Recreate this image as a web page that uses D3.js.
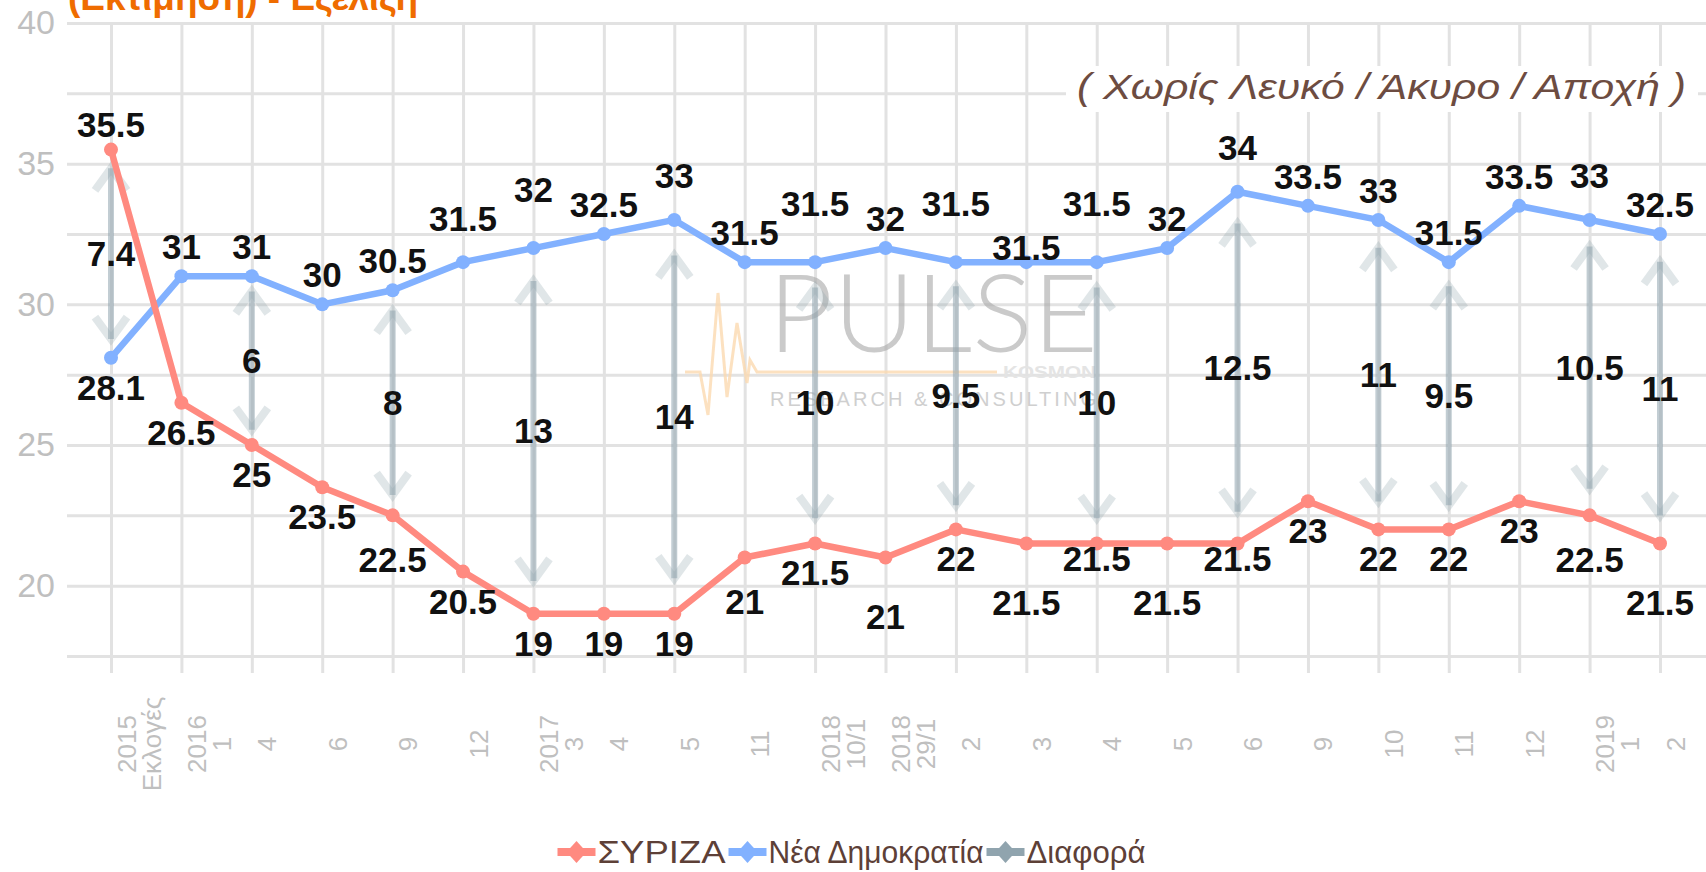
<!DOCTYPE html>
<html>
<head>
<meta charset="utf-8">
<script src="https://cdn.jsdelivr.net/npm/d3@7"></script>
<style>
body { margin: 0; background: #fff; }
svg { display: block; font-family: "Liberation Sans", Arial, sans-serif; }
</style>
</head>
<body>
<div id="chart"></div>
<script>
var width = 1706, height = 872;
var plotLeft = 67;      // where horizontal grid starts
var plotTop = 23;       // y of the 40 line
var plotBottom = 656;   // y of the 17.5 line
var tickBottom = 673;   // vertical grid runs a bit below the plot

// text
var titleText = "(Εκτίμηση) - Εξέλιξη";
var subtitleText = "( Χωρίς Λευκό / Άκυρο / Αποχή )";
var seriesNames = ["ΣΥΡΙΖΑ", "Νέα Δημοκρατία", "Διαφορά"];

// data
var xLabels = [["2015", "Εκλογές"], ["2016", "1"], ["4"], ["6"], ["9"], ["12"],
	["2017", "3"], ["4"], ["5"], ["11"], ["2018", "10/1"], ["2018", "29/1"],
	["2"], ["3"], ["4"], ["5"], ["6"], ["9"], ["10"], ["11"], ["12"], ["2019", "1"], ["2"]];
var syriza = [35.5, 26.5, 25, 23.5, 22.5, 20.5, 19, 19, 19, 21, 21.5, 21, 22, 21.5, 21.5, 21.5, 21.5, 23, 22, 22, 23, 22.5, 21.5];
var nd = [28.1, 31, 31, 30, 30.5, 31.5, 32, 32.5, 33, 31.5, 31.5, 32, 31.5, 31.5, 31.5, 32, 34, 33.5, 33, 31.5, 33.5, 33, 32.5];
var diffIdx = [0, 2, 4, 6, 8, 10, 12, 14, 16, 18, 19, 21, 22];
var diffVal = [7.4, 6, 8, 13, 14, 10, 9.5, 10, 12.5, 11, 9.5, 10.5, 11];
var yTicks = [17.5, 20, 22.5, 25, 27.5, 30, 32.5, 35, 37.5, 40];

// label stacking (layout only): ND labels go up, ΣΥΡΙΖΑ labels go down
var ndLabelStep = [-2, 2, 2, 2, 2, 3, 4, 2, 3, 2, 4, 2, 4, 1, 4, 2, 3, 2, 2, 2, 2, 3, 2];
var syrizaLabelStep = [-1.7, 2, 2, 2, 3, 2, 2, 2, 2, 3, 2, 4, 2, 4, 1, 4, 1, 2, 2, 2, 2, 3, 4];
var stepPx = 14.7;

// colours
var syrizaColor = "#ff8a80";
var ndColor = "#82b1ff";
var diffColor = "#90a4ae";
var gridColor = "#e2e2e2";
var axisTextColor = "#bfbfbf";
var legendTextColor = "#5d4037";

var x = d3.scalePoint()
	.domain(d3.range(xLabels.length))
	.range([111, 1660]);

var y = d3.scaleLinear()
	.domain([17.5, 40])
	.range([plotBottom, plotTop]);

var svg = d3.select("#chart")
	.append("svg")
	.attr("width", width)
	.attr("height", height);

// title, cut off at the top of the picture
svg.append("text")
	.attr("x", 68)
	.attr("y", 10)
	.attr("font-size", 36)
	.attr("font-weight", "bold")
	.attr("fill", "#ef6c00")
	.attr("textLength", 350)
	.attr("lengthAdjust", "spacingAndGlyphs")
	.text(titleText);

// y axis + horizontal grid
var gy = svg.append("g")
	.attr("transform", "translate(" + plotLeft + ",0)")
	.call(d3.axisLeft(y)
		.tickValues(yTicks)
		.tickSize(-(width - plotLeft))
		.tickPadding(12)
		.tickFormat(function(d) { return d % 5 === 0 ? d : ""; }));
gy.select(".domain").remove();
gy.selectAll(".tick line").attr("stroke", gridColor).attr("stroke-width", 3);
gy.selectAll(".tick text")
	.attr("font-size", 34)
	.attr("font-family", "Liberation Sans, Arial, sans-serif")
	.attr("fill", axisTextColor);

// x axis + vertical grid
var gx = svg.append("g")
	.attr("transform", "translate(0," + tickBottom + ")")
	.call(d3.axisBottom(x)
		.tickSize(-(tickBottom - plotTop))
		.tickFormat(""));
gx.select(".domain").remove();
gx.selectAll(".tick line").attr("stroke", gridColor).attr("stroke-width", 3);
gx.selectAll(".tick text").remove();
gx.selectAll(".tick").append("text")
	.attr("transform", "translate(0," + (744 - tickBottom) + ") rotate(-90)")
	.attr("text-anchor", "middle")
	.attr("font-size", 26)
	.attr("font-family", "Liberation Sans, Arial, sans-serif")
	.attr("fill", axisTextColor)
	.selectAll("tspan")
	.data(function(d) { return xLabels[d]; })
	.join("tspan")
	.attr("x", 0)
	.attr("y", function(d, i) { return 24 + i * 25; })
	.text(function(d) { return d; });

// watermark
var wm = svg.append("g").attr("class", "watermark");
var pulseLine = [[685, 372], [700, 372], [708, 415], [718, 293], [727, 397], [737, 323], [747, 383], [750, 360], [757, 372], [997, 372]];
wm.append("path")
	.attr("d", d3.line()(pulseLine))
	.attr("fill", "none")
	.attr("stroke", "#fbd9b0")
	.attr("stroke-width", 3)
	.attr("opacity", 0.8);
wm.append("text")
	.attr("x", 768)
	.attr("y", 352)
	.attr("font-family", "Lato, 'Open Sans', sans-serif")
	.attr("font-weight", 300)
	.attr("font-size", 108)
	.attr("fill", "#a8a8a8")
	.attr("opacity", 0.6)
	.attr("textLength", 330)
	.attr("lengthAdjust", "spacingAndGlyphs")
	.text("PULSE");
wm.append("text")
	.attr("x", 1003)
	.attr("y", 378)
	.attr("font-size", 16)
	.attr("font-weight", "bold")
	.attr("fill", "#e4e4e4")
	.attr("textLength", 93)
	.attr("lengthAdjust", "spacingAndGlyphs")
	.text("KOSMON");
wm.append("text")
	.attr("x", 770)
	.attr("y", 406)
	.attr("font-size", 20)
	.attr("fill", "#c4c4c4")
	.attr("opacity", 0.8)
	.attr("textLength", 326)
	.attr("lengthAdjust", "spacing")
	.text("RESEARCH & CONSULTING");

// subtitle on a white box
svg.append("rect")
	.attr("x", 1066)
	.attr("y", 66)
	.attr("width", 632)
	.attr("height", 46)
	.attr("fill", "#fff");
svg.append("text")
	.attr("x", 1077)
	.attr("y", 99)
	.attr("font-size", 36)
	.attr("font-style", "italic")
	.attr("fill", "#6d4c41")
	.attr("textLength", 609)
	.attr("lengthAdjust", "spacingAndGlyphs")
	.text(subtitleText);

// difference arrows
var diffData = diffIdx.map(function(idx, k) {
	var top = y(Math.max(syriza[idx], nd[idx]));
	var bot = y(Math.min(syriza[idx], nd[idx]));
	var inset = (bot - top) * 0.09;
	return { i: idx, v: diffVal[k], a: top + inset, b: bot - inset, mid: (top + bot) / 2 };
});

var arrowGroup = svg.append("g").attr("class", "arrows");
arrowGroup.selectAll("line")
	.data(diffData)
	.join("line")
	.attr("x1", function(d) { return x(d.i); })
	.attr("x2", function(d) { return x(d.i); })
	.attr("y1", function(d) { return d.a; })
	.attr("y2", function(d) { return d.b; })
	.attr("stroke", diffColor)
	.attr("stroke-opacity", 0.55)
	.attr("stroke-width", 6);
arrowGroup.selectAll("path.head-up")
	.data(diffData)
	.join("path")
	.attr("class", "head-up")
	.attr("d", function(d) { var cx = x(d.i); return "M" + (cx - 16) + "," + (d.a + 22) + "L" + cx + "," + d.a + "L" + (cx + 16) + "," + (d.a + 22); })
	.attr("fill", "none")
	.attr("stroke", diffColor)
	.attr("stroke-opacity", 0.28)
	.attr("stroke-width", 8);
arrowGroup.selectAll("path.head-down")
	.data(diffData)
	.join("path")
	.attr("class", "head-down")
	.attr("d", function(d) { var cx = x(d.i); return "M" + (cx - 16) + "," + (d.b - 22) + "L" + cx + "," + d.b + "L" + (cx + 16) + "," + (d.b - 22); })
	.attr("fill", "none")
	.attr("stroke", diffColor)
	.attr("stroke-opacity", 0.28)
	.attr("stroke-width", 8);

// series lines
var line = d3.line()
	.x(function(d, i) { return x(i); })
	.y(function(d) { return y(d); });

[[nd, ndColor], [syriza, syrizaColor]].forEach(function(s) {
	svg.append("path")
		.attr("d", line(s[0]))
		.attr("fill", "none")
		.attr("stroke", s[1])
		.attr("stroke-width", 6.5)
		.attr("stroke-linejoin", "round");
	svg.append("g").selectAll("circle")
		.data(s[0])
		.join("circle")
		.attr("cx", function(d, i) { return x(i); })
		.attr("cy", function(d) { return y(d); })
		.attr("r", 7)
		.attr("fill", s[1]);
});

// labels
var labelGroup = svg.append("g")
	.attr("font-size", 35)
	.attr("font-weight", "bold")
	.attr("fill", "#111")
	.attr("text-anchor", "middle");

labelGroup.selectAll("text.diff")
	.data(diffData)
	.join("text")
	.attr("class", "diff")
	.attr("x", function(d) { return x(d.i); })
	.attr("y", function(d) { return d.mid + 12.5; })
	.text(function(d) { return d.v; });

labelGroup.selectAll("text.nd")
	.data(nd)
	.join("text")
	.attr("class", "nd")
	.attr("x", function(d, i) { return x(i); })
	.attr("y", function(d, i) { return y(d) - ndLabelStep[i] * stepPx + 12.5; })
	.text(function(d) { return d; });

labelGroup.selectAll("text.syriza")
	.data(syriza)
	.join("text")
	.attr("class", "syriza")
	.attr("x", function(d, i) { return x(i); })
	.attr("y", function(d, i) { return y(d) + syrizaLabelStep[i] * stepPx + 12.5; })
	.text(function(d) { return d; });

// legend
var legendColors = [syrizaColor, ndColor, diffColor];
var legendWidths = [128, 215, 119];
var legend = svg.append("g").attr("class", "legend");
var lx = 0;
seriesNames.forEach(function(name, k) {
	var item = legend.append("g").attr("transform", "translate(" + lx + ",0)");
	item.append("line")
		.attr("x1", 0).attr("x2", 38)
		.attr("y1", 0).attr("y2", 0)
		.attr("stroke", legendColors[k])
		.attr("stroke-width", 8);
	item.append("path")
		.attr("d", "M9,0L19,-11L29,0L19,11Z")
		.attr("fill", legendColors[k]);
	item.append("text")
		.attr("x", 40)
		.attr("y", 11)
		.attr("font-size", 32)
		.attr("fill", legendTextColor)
		.attr("textLength", legendWidths[k])
		.attr("lengthAdjust", "spacingAndGlyphs")
		.text(name);
	lx += 40 + legendWidths[k] + 3;
});
legend.attr("transform", "translate(" + (853 - lx / 2) + ",852)");
</script>
</body>
</html>
